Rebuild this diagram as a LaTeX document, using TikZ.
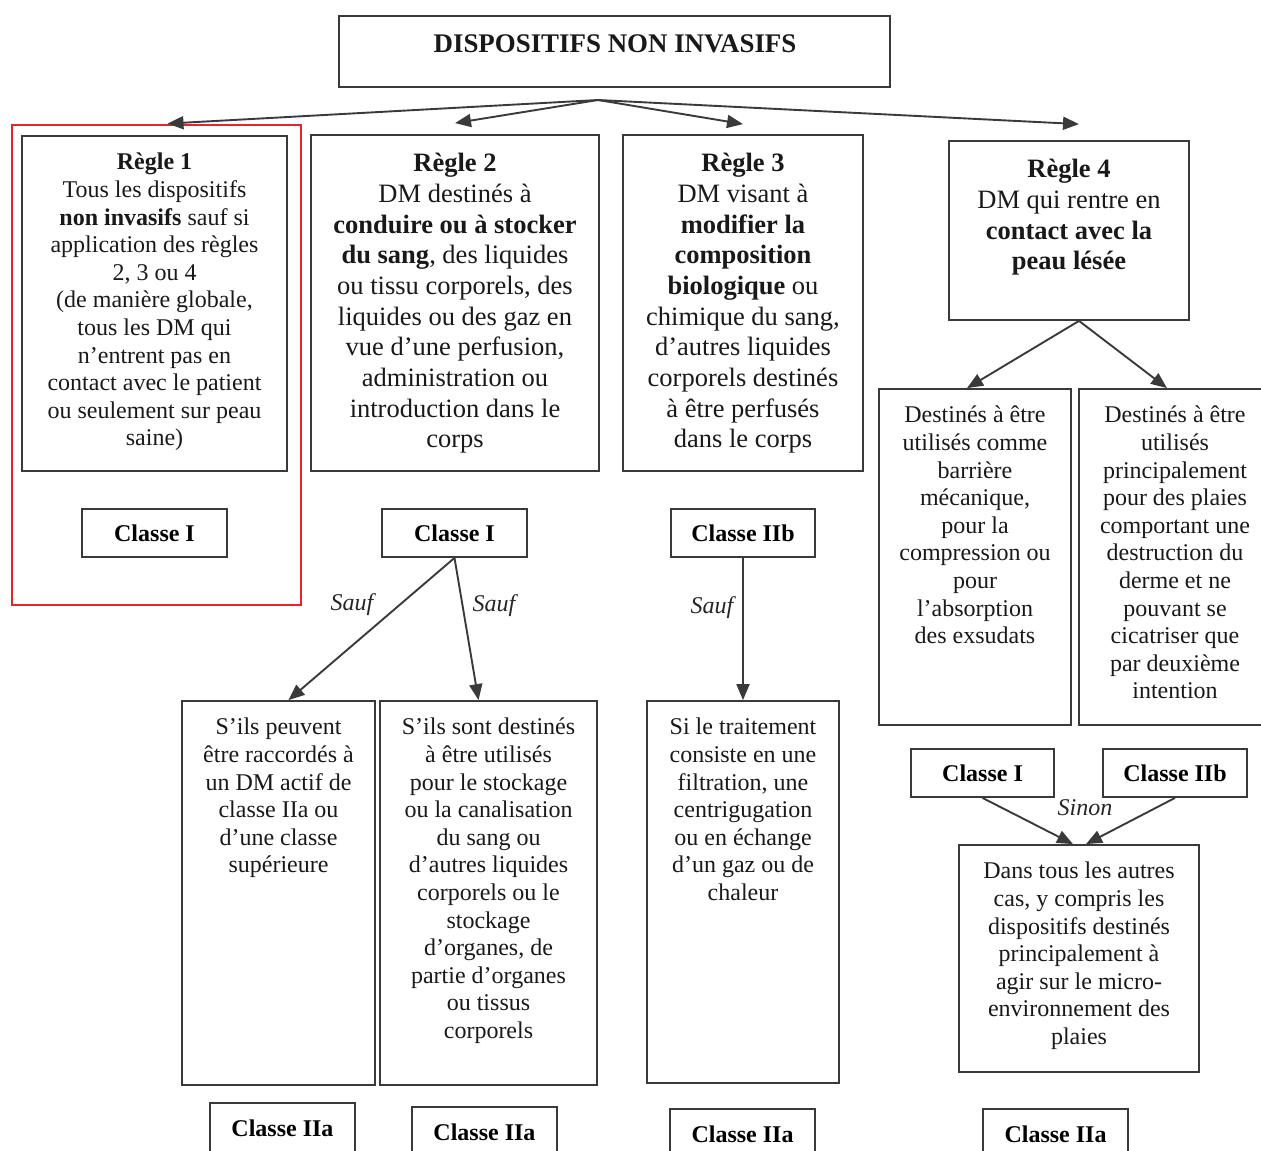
\documentclass[tikz,border=0pt]{standalone}
\usepackage{fontspec}
\setmainfont{Liberation Serif}
\usetikzlibrary{arrows.meta,positioning}
\definecolor{framegray}{HTML}{3A3A3A}
\definecolor{markred}{HTML}{E8232A}
\tikzset{
  frame/.style    = {draw=framegray, line width=1.8pt, inner sep=0pt},
  redframe/.style = {draw=markred, line width=2.8pt, inner sep=0pt},
  classbox/.style = {frame, minimum height=48pt, font=\fontsize{24}{27.6}\selectfont\bfseries},
  smalltxt/.style = {align=center, inner sep=0pt, anchor=north, text=black!90,
                     font=\fontsize{24}{27.6}\selectfont},
  bigtxt/.style   = {align=center, inner sep=0pt, anchor=north, text=black!90,
                     font=\fontsize{26.5}{30.7}\selectfont},
  titletxt/.style = {inner sep=0pt, text=black!90, font=\fontsize{26.9}{30}\selectfont\bfseries},
  note/.style     = {inner sep=0pt, text=black!85, font=\fontsize{24}{27.6}\selectfont\itshape},
  arrow/.style    = {-{Triangle[length=16pt,width=13pt]}, line width=1.9pt, draw=framegray},
}

\begin{document}
\begin{tikzpicture}[x=1pt,y=-1pt]
  \useasboundingbox (0,0) rectangle (1261,1151);

  % title
  \node[frame, minimum width=551pt, minimum height=71pt] (title) at (614.5,51.5) {};
  \node[titletxt] (titletext) at (615,44) {DISPOSITIFS NON INVASIFS};
  \coordinate (hub) at (598,100);

  % rule 1 (marked in red)
  \node[redframe, minimum width=289pt, minimum height=480pt] (mark) at (156.5,365) {};
  \node[frame, minimum width=265pt, minimum height=335pt] (r1) at (154.5,303.5) {};
  \node[smalltxt] (r1text) at (154.5,153) {\textbf{Règle 1}\\
    Tous les dispositifs\\ \textbf{non invasifs} sauf si\\ application des règles\\
    2, 3 ou 4\\ (de manière globale,\\ tous les DM qui\\ n’entrent pas en\\
    contact avec le patient\\ ou seulement sur peau\\ saine)};
  \node[classbox, minimum width=145pt] (c1) at (154.5,533) {Classe I};

  % rule 2
  \node[frame, minimum width=288pt, minimum height=336pt] (r2) at (455,303) {};
  \node[bigtxt] (r2text) at (455,153) {\textbf{Règle 2}\\ DM destinés à\\
    \textbf{conduire ou à stocker}\\ \textbf{du sang}, des liquides\\
    ou tissu corporels, des\\ liquides ou des gaz en\\ vue d’une perfusion,\\
    administration ou\\ introduction dans le\\ corps};
  \node[classbox, minimum width=145pt] (c2) at (454.5,533) {Classe I};

  % rule 3
  \node[frame, minimum width=240pt, minimum height=336pt] (r3) at (743,303) {};
  \node[bigtxt] (r3text) at (743,153) {\textbf{Règle 3}\\ DM visant à\\
    \textbf{modifier la}\\ \textbf{composition}\\ \textbf{biologique} ou\\
    chimique du sang,\\ d’autres liquides\\ corporels destinés\\
    à être perfusés\\ dans le corps};
  \node[classbox, minimum width=144pt] (c3) at (743,533) {Classe IIb};

  % rule 4
  \node[frame, minimum width=240pt, minimum height=179pt] (r4) at (1069,230.5) {};
  \node[bigtxt] (r4text) at (1069,159) {\textbf{Règle 4}\\ DM qui rentre en\\
    \textbf{contact avec la}\\ \textbf{peau lésée}};

  % arrows from the title
  \draw[arrow] (hub) -- ([xshift=11pt]mark.north);
  \draw[arrow] (hub) -- ([yshift=11pt]r2.north);
  \draw[arrow] (hub) -- ([yshift=10pt]r3.north);
  \draw[arrow] (hub) -- ([xshift=10pt,yshift=16pt]r4.north);

  % exceptions of rule 2
  \node[frame, minimum width=193pt, minimum height=384pt] (s1) at (278.5,893) {};
  \node[smalltxt] (s1text) at (278.5,718) {S’ils peuvent\\ être raccordés à\\
    un DM actif de\\ classe IIa ou\\ d’une classe\\ supérieure};
  \node[frame, minimum width=217pt, minimum height=384pt] (s2) at (488.5,893) {};
  \node[smalltxt] (s2text) at (488.5,718) {S’ils sont destinés\\ à être utilisés\\
    pour le stockage\\ ou la canalisation\\ du sang ou\\ d’autres liquides\\
    corporels ou le\\ stockage\\ d’organes, de\\ partie d’organes\\
    ou tissus\\ corporels};
  \draw[arrow] (c2.south) -- ([xshift=10pt]s1.north);
  \draw[arrow] (c2.south) -- ([xshift=-10pt]s2.north);
  \node[note] (sauf1) at (352,605) {Sauf};
  \node[note] (sauf2) at (494,606) {Sauf};
  \node[classbox, minimum width=145pt, minimum height=50pt] (c5) at (282.5,1128) {Classe IIa};
  \node[classbox, minimum width=145pt, minimum height=50pt] (c6) at (484.5,1132) {Classe IIa};

  % exception of rule 3
  \node[frame, minimum width=192pt, minimum height=382pt] (t3) at (743,892) {};
  \node[smalltxt] (t3text) at (743,718) {Si le traitement\\ consiste en une\\
    filtration, une\\ centrigugation\\ ou en échange\\ d’un gaz ou de\\ chaleur};
  \draw[arrow] (c3.south) -- (t3.north);
  \node[note] (sauf3) at (712,608) {Sauf};
  \node[classbox, minimum width=145pt, minimum height=50pt] (c7) at (742.5,1134) {Classe IIa};

  % branches of rule 4
  \node[frame, minimum width=192pt, minimum height=336pt] (dl) at (975,557) {};
  \node[smalltxt] (dltext) at (975,406) {Destinés à être\\ utilisés comme\\ barrière\\
    mécanique,\\ pour la\\ compression ou\\ pour\\ l’absorption\\ des exsudats};
  \node[frame, minimum width=192pt, minimum height=336pt] (dr) at (1175,557) {};
  \node[smalltxt] (drtext) at (1175,406) {Destinés à être\\ utilisés\\ principalement\\
    pour des plaies\\ comportant une\\ destruction du\\ derme et ne\\ pouvant se\\
    cicatriser que\\ par deuxième\\ intention};
  \draw[arrow] ([xshift=10pt]r4.south) -- ([xshift=-8pt]dl.north);
  \draw[arrow] ([xshift=10pt]r4.south) -- ([xshift=-8pt]dr.north);
  \node[classbox, minimum width=143pt] (c8) at (982.5,773) {Classe I};
  \node[classbox, minimum width=144pt] (c9) at (1175,773) {Classe IIb};

  % otherwise
  \node[frame, minimum width=240pt, minimum height=227pt] (dt) at (1079,958.5) {};
  \node[smalltxt] (dttext) at (1079,862) {Dans tous les autres\\ cas, y compris les\\
    dispositifs destinés\\ principalement à\\ agir sur le micro-\\
    environnement des\\ plaies};
  \draw[arrow] (c8.south) -- ([xshift=-6pt]dt.north);
  \draw[arrow] (c9.south) -- ([xshift=7pt]dt.north);
  \node[note] (sinon) at (1085,808) {Sinon};
  \node[classbox, minimum width=145pt, minimum height=50pt] (c10) at (1055.5,1134) {Classe IIa};
\end{tikzpicture}
\end{document}
